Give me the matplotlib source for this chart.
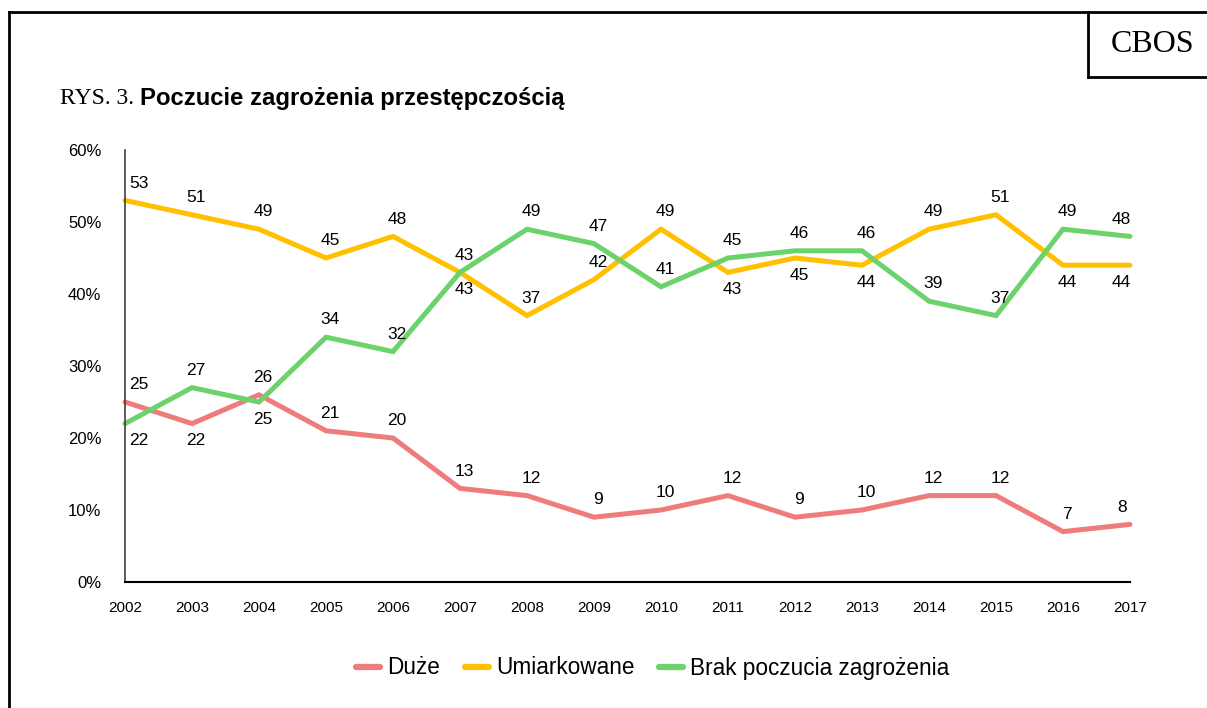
import matplotlib
matplotlib.use('Agg')
import matplotlib.pyplot as plt
from matplotlib.lines import Line2D

years = list(range(2002, 2018))
duze = [25, 22, 26, 21, 20, 13, 12, 9, 10, 12, 9, 10, 12, 12, 7, 8]
umiark = [53, 51, 49, 45, 48, 43, 37, 42, 49, 43, 45, 44, 49, 51, 44, 44]
brak = [22, 27, 25, 34, 32, 43, 49, 47, 41, 45, 46, 46, 39, 37, 49, 48]
labels = ['Duże', 'Umiarkowane', 'Brak poczucia zagrożenia']
colors = ['#F07B7B', '#FFC000', '#6CD26C']

# which data labels sit below the line (1 = below)
below_duze = [0, 1, 0, 0, 0, 0, 0, 0, 0, 0, 0, 0, 0, 0, 0, 0]
below_umiark = [0, 0, 0, 0, 0, 1, 0, 0, 0, 1, 1, 1, 0, 0, 1, 1]
below_brak = [1, 0, 1, 0, 0, 0, 0, 0, 0, 0, 0, 0, 0, 0, 0, 0]

W, H = 1207, 708
fig = plt.figure(figsize=(W / 100, H / 100), dpi=100)
plt.rcParams['font.family'] = ['Liberation Sans', 'DejaVu Sans']

ax = fig.add_axes([125 / W, 1 - 582 / H, (1130 - 125) / W, (582 - 150) / H])

series = [(duze, below_duze), (umiark, below_umiark), (brak, below_brak)]
for (vals, below), lab, col in zip(series, labels, colors):
    ax.plot(years, vals, color=col, lw=3.6, label=lab, solid_capstyle='round',
            solid_joinstyle='miter', clip_on=False)
    for i, (x, v) in enumerate(zip(years, vals)):
        dx = 3
        if i == 0:
            dx = 10
        elif i == len(years) - 1:
            dx = -6
        dy = -12.5 if below[i] else 12.5
        ax.annotate(str(v), (x, v), xytext=(dx, dy), textcoords='offset points',
                    ha='center', va='center', fontsize=12.5, color='black')

ax.set_xlim(2002, 2017)
ax.set_ylim(0, 60)
ax.set_xticks(years)
ax.set_yticks(range(0, 61, 10))
ax.set_yticklabels([f'{t}%' for t in range(0, 61, 10)])
ax.tick_params(axis='both', length=0, colors='black')
ax.tick_params(axis='y', pad=17, labelsize=12)
ax.tick_params(axis='x', pad=14, labelsize=11)
for s in ['top', 'right']:
    ax.spines[s].set_visible(False)
ax.spines['left'].set_color('#404040')
ax.spines['left'].set_linewidth(1.2)
ax.spines['bottom'].set_color('black')
ax.spines['bottom'].set_linewidth(1.5)

leg = fig.legend(loc='center', bbox_to_anchor=(653 / W, 1 - 668 / H), ncol=3,
                 frameon=False, fontsize=16.3, handlelength=1.05,
                 handletextpad=0.32, columnspacing=1.1)
for h in leg.get_lines():
    h.set_linewidth(4.5)

# title
fig.text(60 / W, 1 - 98 / H, 'RYS. 3.', family='Liberation Serif', fontsize=17,
         va='center', ha='left')
fig.text(140 / W, 1 - 98 / H, 'Poczucie zagrożenia przestępczością', fontsize=17.2,
         fontweight='bold', va='center', ha='left')

# frame and CBOS box
def fig_line(x0, y0, x1, y1, lw=2):
    fig.add_artist(Line2D([x0 / W, x1 / W], [1 - y0 / H, 1 - y1 / H],
                          color='black', lw=lw, transform=fig.transFigure))

fig_line(9, 12, 9, H + 5)
fig_line(9, 12, W + 5, 12)
fig_line(1088, 12, 1088, 77)
fig_line(1088, 77, W + 5, 77)
fig.text(1153 / W, 1 - 44 / H, 'CBOS', family='Liberation Serif', fontsize=23,
         va='center', ha='center')

fig.savefig('out.png', dpi=100)
